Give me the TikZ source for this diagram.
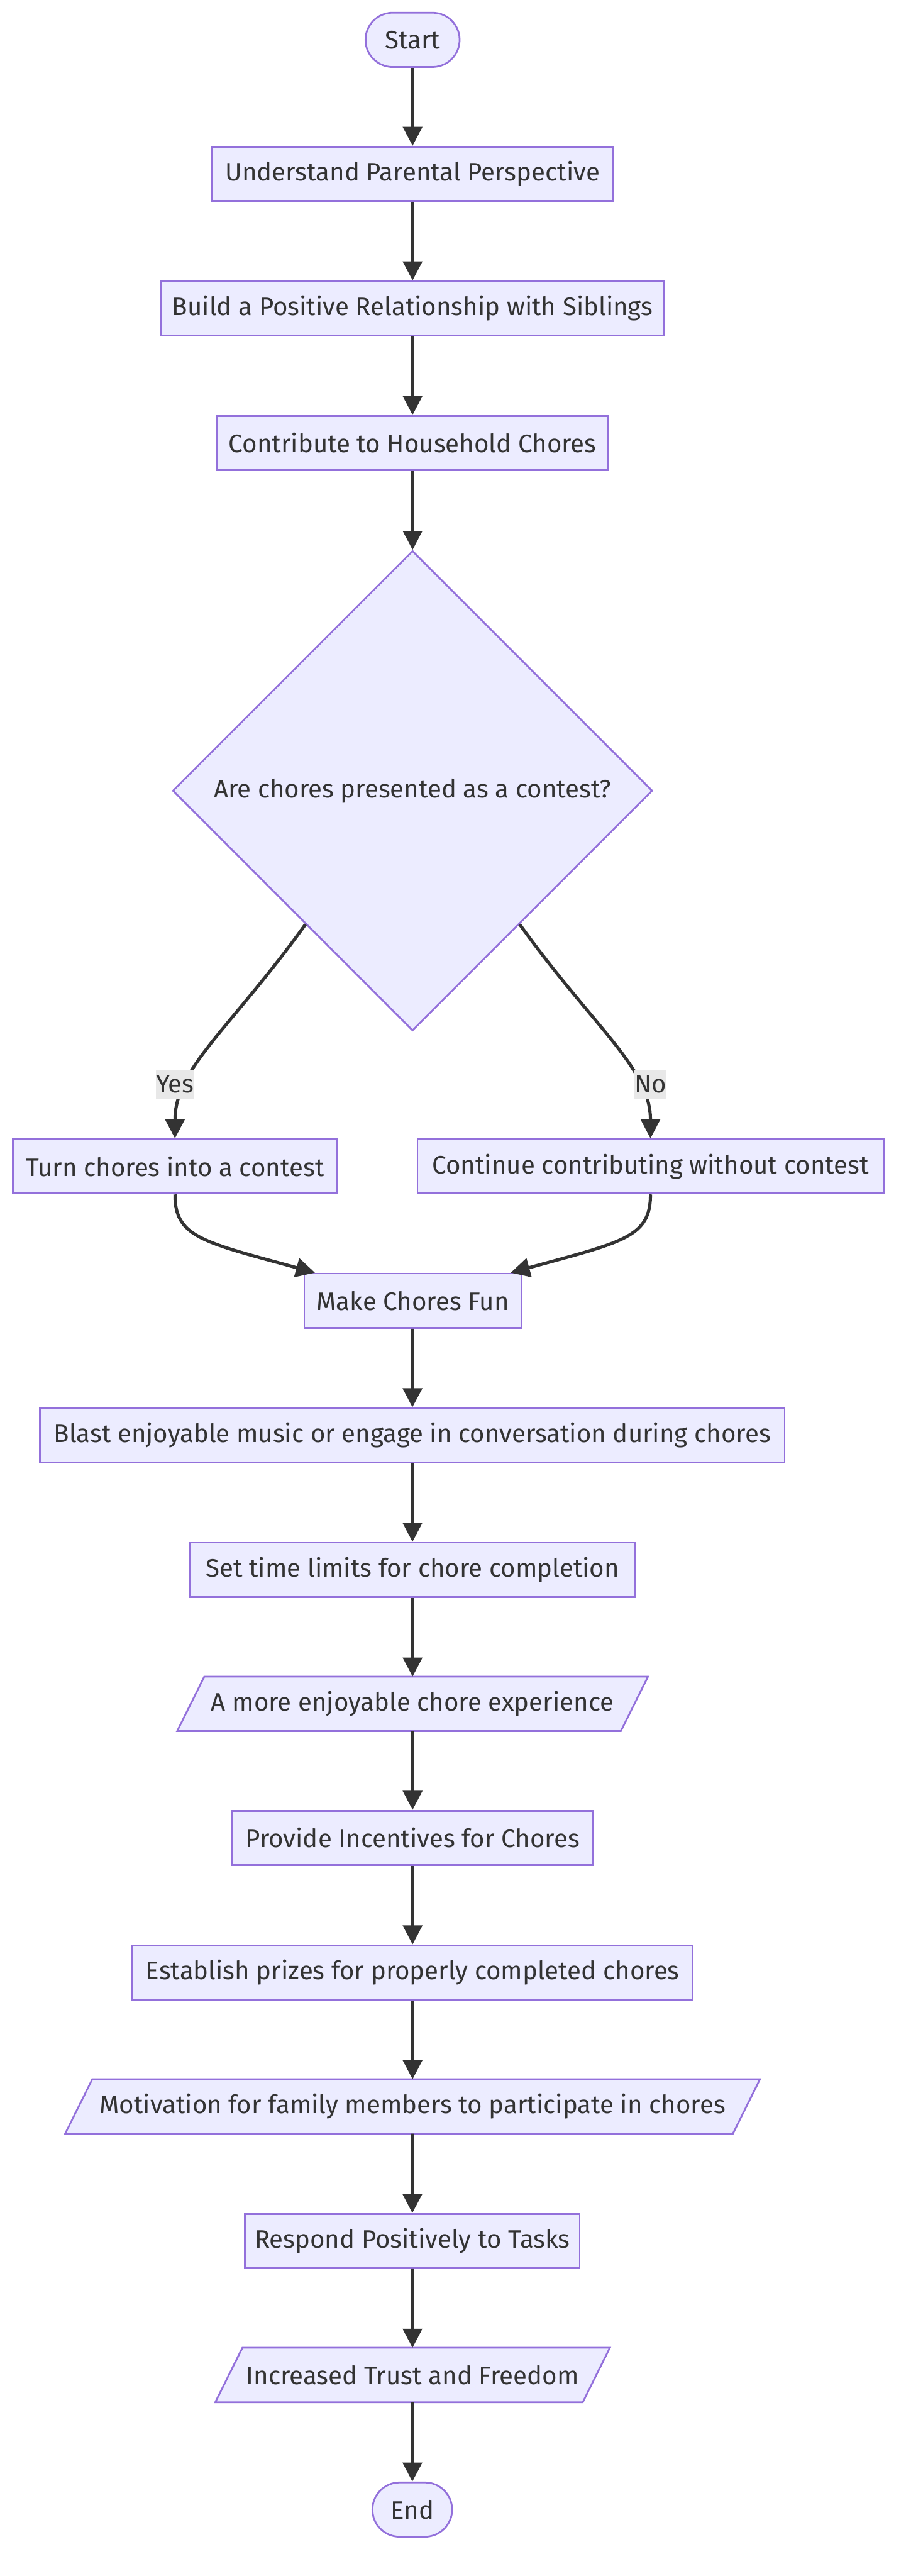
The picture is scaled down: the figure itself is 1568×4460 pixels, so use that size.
\documentclass[tikz,border=0pt]{standalone}
\usepackage{fontspec}
\setmainfont{Fira Sans}
\usetikzlibrary{arrows.meta,shapes.geometric,calc,backgrounds}
\definecolor{nodefill}{HTML}{ECECFF}
\definecolor{nodeline}{HTML}{9370DB}
\definecolor{edgecol}{HTML}{333333}
\definecolor{labelbg}{HTML}{E8E8E8}
\begin{document}
\begin{tikzpicture}[x=1pt,y=-1pt,
  every node/.style={font=\fontsize{43.8}{52}\selectfont, text=edgecol},
  box/.style={rectangle, draw=nodeline, fill=nodefill, line width=3pt, minimum height=94pt, inner sep=0pt},
  term/.style={box, rounded corners=47pt},
  para/.style={rectangle, draw=none, fill=none, minimum height=94pt, inner sep=0pt},
  paraframe/.style={draw=nodeline, fill=nodefill, line width=3pt},
  decision/.style={diamond, aspect=1, draw=nodeline, fill=nodefill, line width=3pt, minimum size=831pt, inner sep=0pt},
  flow/.style={draw=edgecol, line width=5.5pt, -{Triangle[length=33pt,width=33pt]}},
  elabel/.style={fill=labelbg, inner xsep=0pt, inner ysep=0pt, minimum height=51pt}
]
\useasboundingbox (0,0) rectangle (1568,4460);
% nodes
\node[term, minimum width=163pt] (start) at (714.5,69) {Start};
\node[box, minimum width=694pt] (und) at (714.5,301) {Understand Parental Perspective};
\node[box, minimum width=870pt] (build) at (714.5,534) {Build a Positive Relationship with Siblings};
\node[box, minimum width=677pt] (contr) at (714.5,767) {Contribute to Household Chores};
\node[decision] (dec) at (714.5,1369) {Are chores presented as a contest?};
\node[box, minimum width=562pt] (turn) at (303,2019.5) {Turn chores into a contest};
\node[box, minimum width=807pt] (cont) at (1126.5,2019.5) {Continue contributing without contest};
\node[box, minimum width=376pt] (fun) at (715,2252) {Make Chores Fun};
\node[box, minimum width=1290pt] (blast) at (714,2485) {Blast enjoyable music or engage in conversation during chores};
\node[box, minimum width=771pt] (setl) at (714.5,2718) {Set time limits for chore completion};
\node[para, minimum width=815pt] (aenj) at (714.5,2950) {A more enjoyable chore experience};
\node[box, minimum width=625pt] (prov) at (714.5,3182) {Provide Incentives for Chores};
\node[box, minimum width=971pt] (estab) at (714.5,3415) {Establish prizes for properly completed chores};
\node[para, minimum width=1203pt] (motiv) at (714.5,3647) {Motivation for family members to participate in chores};
\node[box, minimum width=580pt] (resp) at (714,3880) {Respond Positively to Tasks};
\node[para, minimum width=683pt] (incr) at (714.5,4112) {Increased Trust and Freedom};
\node[term, minimum width=138pt] (endn) at (714,4345) {End};
% background and parallelograms
\begin{scope}[on background layer]
  \fill[white] (0,0) rectangle (1568,4460);
  \foreach \n in {aenj,motiv,incr}
    \draw[paraframe] (\n.south west) -- ($(\n.north west)+(47,0)$) -- (\n.north east) -- ($(\n.south east)+(-47,0)$) -- cycle;
\end{scope}
% connectors
\draw[flow] (start) -- (und);
\draw[flow] (und) -- (build);
\draw[flow] (build) -- (contr);
\draw[flow] (contr) -- (dec);
\coordinate (ys) at ($(dec.west)!0.555!(dec.south)$);
\coordinate (ns) at ($(dec.east)!0.555!(dec.south)$);
\draw[flow] (ys) .. controls (400,1780) and ($(turn.north)+(0,-122)$) .. (turn.north);
\draw[flow] (ns) .. controls (1029,1780) and ($(cont.north)+(0,-122)$) .. (cont.north);
\node[elabel] (yes) at (303,1877.5) {Yes};
\node[elabel] (no) at (1126.5,1877.5) {No};
\draw[flow] (turn.south) .. controls ($(turn.south)+(0,74)$) and (350,2150) .. ($(fun.north west)+(20,0)$);
\draw[flow] (cont.south) .. controls ($(cont.south)+(0,74)$) and (1080,2150) .. ($(fun.north east)+(-20,0)$);
\draw[flow] (fun) -- (blast);
\draw[flow] (blast) -- (setl);
\draw[flow] (setl) -- (aenj);
\draw[flow] (aenj) -- (prov);
\draw[flow] (prov) -- (estab);
\draw[flow] (estab) -- (motiv);
\draw[flow] (motiv) -- (resp);
\draw[flow] (resp) -- (incr);
\draw[flow] (incr) -- (endn);
\end{tikzpicture}
\end{document}
